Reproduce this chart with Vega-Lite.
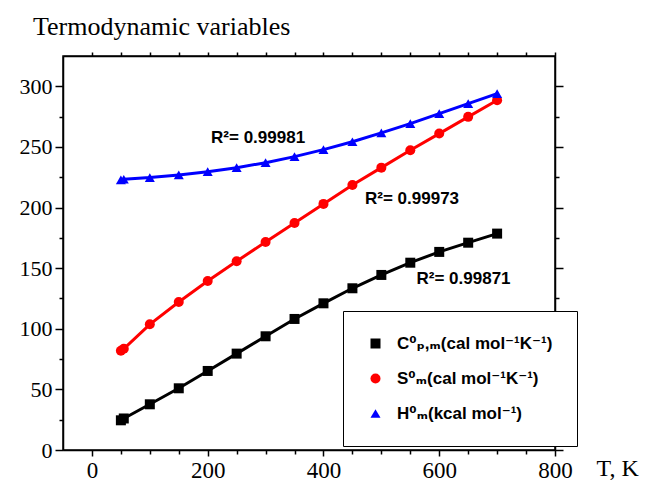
{
  "$schema": "https://vega.github.io/schema/vega-lite/v6.json",
  "width": 492,
  "height": 394,
  "autosize": "none",
  "padding": {"left": 63, "top": 56, "right": 90, "bottom": 30},
  "title": {
    "text": "Termodynamic variables",
    "anchor": "start",
    "frame": "group",
    "font": "Liberation Serif",
    "fontSize": 26,
    "fontWeight": "normal",
    "color": "black",
    "dx": -30,
    "offset": 11
  },
  "config": {
    "view": {"stroke": "black", "strokeWidth": 1.5},
    "axis": {
      "grid": false,
      "domainColor": "black",
      "domainWidth": 1.5,
      "tickColor": "black",
      "tickWidth": 1.5,
      "labelColor": "black",
      "labelFont": "Liberation Serif",
      "labelFontSize": 21,
      "labelOverlap": false,
      "labelFlush": false
    }
  },
  "datasets": {
    "series": [
      {"T": 50, "v": 24.5, "s": "C⁰ₚ,ₘ(cal mol⁻¹K⁻¹)"},
      {"T": 55, "v": 26.0, "s": "C⁰ₚ,ₘ(cal mol⁻¹K⁻¹)"},
      {"T": 100, "v": 37.7, "s": "C⁰ₚ,ₘ(cal mol⁻¹K⁻¹)"},
      {"T": 150, "v": 50.9, "s": "C⁰ₚ,ₘ(cal mol⁻¹K⁻¹)"},
      {"T": 200, "v": 65.2, "s": "C⁰ₚ,ₘ(cal mol⁻¹K⁻¹)"},
      {"T": 250, "v": 79.5, "s": "C⁰ₚ,ₘ(cal mol⁻¹K⁻¹)"},
      {"T": 300, "v": 93.8, "s": "C⁰ₚ,ₘ(cal mol⁻¹K⁻¹)"},
      {"T": 350, "v": 108.1, "s": "C⁰ₚ,ₘ(cal mol⁻¹K⁻¹)"},
      {"T": 400, "v": 121.0, "s": "C⁰ₚ,ₘ(cal mol⁻¹K⁻¹)"},
      {"T": 450, "v": 133.4, "s": "C⁰ₚ,ₘ(cal mol⁻¹K⁻¹)"},
      {"T": 500, "v": 144.4, "s": "C⁰ₚ,ₘ(cal mol⁻¹K⁻¹)"},
      {"T": 550, "v": 154.5, "s": "C⁰ₚ,ₘ(cal mol⁻¹K⁻¹)"},
      {"T": 600, "v": 163.4, "s": "C⁰ₚ,ₘ(cal mol⁻¹K⁻¹)"},
      {"T": 650, "v": 171.0, "s": "C⁰ₚ,ₘ(cal mol⁻¹K⁻¹)"},
      {"T": 700, "v": 178.5, "s": "C⁰ₚ,ₘ(cal mol⁻¹K⁻¹)"},
      {"T": 50, "v": 81.8, "s": "S⁰ₘ(cal mol⁻¹K⁻¹)"},
      {"T": 55, "v": 83.5, "s": "S⁰ₘ(cal mol⁻¹K⁻¹)"},
      {"T": 100, "v": 103.7, "s": "S⁰ₘ(cal mol⁻¹K⁻¹)"},
      {"T": 150, "v": 122.1, "s": "S⁰ₘ(cal mol⁻¹K⁻¹)"},
      {"T": 200, "v": 139.4, "s": "S⁰ₘ(cal mol⁻¹K⁻¹)"},
      {"T": 250, "v": 155.7, "s": "S⁰ₘ(cal mol⁻¹K⁻¹)"},
      {"T": 300, "v": 171.6, "s": "S⁰ₘ(cal mol⁻¹K⁻¹)"},
      {"T": 350, "v": 187.3, "s": "S⁰ₘ(cal mol⁻¹K⁻¹)"},
      {"T": 400, "v": 203.0, "s": "S⁰ₘ(cal mol⁻¹K⁻¹)"},
      {"T": 450, "v": 218.6, "s": "S⁰ₘ(cal mol⁻¹K⁻¹)"},
      {"T": 500, "v": 232.9, "s": "S⁰ₘ(cal mol⁻¹K⁻¹)"},
      {"T": 550, "v": 247.3, "s": "S⁰ₘ(cal mol⁻¹K⁻¹)"},
      {"T": 600, "v": 261.0, "s": "S⁰ₘ(cal mol⁻¹K⁻¹)"},
      {"T": 650, "v": 274.8, "s": "S⁰ₘ(cal mol⁻¹K⁻¹)"},
      {"T": 700, "v": 288.5, "s": "S⁰ₘ(cal mol⁻¹K⁻¹)"},
      {"T": 50, "v": 222.8, "s": "H⁰ₘ(kcal mol⁻¹)"},
      {"T": 55, "v": 223.3, "s": "H⁰ₘ(kcal mol⁻¹)"},
      {"T": 100, "v": 224.7, "s": "H⁰ₘ(kcal mol⁻¹)"},
      {"T": 150, "v": 226.9, "s": "H⁰ₘ(kcal mol⁻¹)"},
      {"T": 200, "v": 229.6, "s": "H⁰ₘ(kcal mol⁻¹)"},
      {"T": 250, "v": 232.9, "s": "H⁰ₘ(kcal mol⁻¹)"},
      {"T": 300, "v": 237.0, "s": "H⁰ₘ(kcal mol⁻¹)"},
      {"T": 350, "v": 242.0, "s": "H⁰ₘ(kcal mol⁻¹)"},
      {"T": 400, "v": 247.8, "s": "H⁰ₘ(kcal mol⁻¹)"},
      {"T": 450, "v": 254.3, "s": "H⁰ₘ(kcal mol⁻¹)"},
      {"T": 500, "v": 261.6, "s": "H⁰ₘ(kcal mol⁻¹)"},
      {"T": 550, "v": 269.2, "s": "H⁰ₘ(kcal mol⁻¹)"},
      {"T": 600, "v": 277.5, "s": "H⁰ₘ(kcal mol⁻¹)"},
      {"T": 650, "v": 285.7, "s": "H⁰ₘ(kcal mol⁻¹)"},
      {"T": 700, "v": 294.0, "s": "H⁰ₘ(kcal mol⁻¹)"}
    ],
    "labels": [
      {"T": 287, "v": 257, "label": "R²= 0.99981"},
      {"T": 553, "v": 207, "label": "R²= 0.99973"},
      {"T": 642, "v": 141, "label": "R²= 0.99871"}
    ]
  },
  "layer": [
    {
      "data": {"name": "series"},
      "mark": {"type": "line", "strokeWidth": 3},
      "encoding": {
        "x": {
          "field": "T", "type": "quantitative",
          "scale": {"domain": [-50, 800], "nice": false, "zero": false},
          "axis": {
            "values": [0, 50, 100, 150, 200, 250, 300, 350, 400, 450, 500, 550, 600, 650, 700, 750, 800],
            "labelExpr": "datum.value % 200 === 0 ? datum.label : ''",
            "tickSize": {"condition": {"test": "datum.value % 200 === 0", "value": 6}, "value": 4},
            "labelFont": "Liberation Serif",
            "labelFontSize": 23,
            "labelPadding": 3,
            "title": "T, K",
            "titleFont": "Liberation Serif",
            "titleFontSize": 24,
            "titleFontWeight": "normal",
            "titleColor": "black",
            "titleAlign": "left",
            "titleAnchor": "start",
            "titleX": 533,
            "titleY": 25,
            "titleBaseline": "alphabetic"
          }
        },
        "y": {
          "field": "v", "type": "quantitative",
          "scale": {"domain": [0, 325], "nice": false},
          "axis": {
            "values": [0, 25, 50, 75, 100, 125, 150, 175, 200, 225, 250, 275, 300],
            "labelExpr": "datum.value % 50 === 0 ? datum.label : ''",
            "tickSize": {"condition": {"test": "datum.value % 50 === 0", "value": 8}, "value": 4},
            "labelFont": "Liberation Serif",
            "labelFontSize": 22,
            "labelPadding": 3,
            "title": null
          }
        },
        "color": {
          "field": "s", "type": "nominal",
          "scale": {"domain": ["C⁰ₚ,ₘ(cal mol⁻¹K⁻¹)", "S⁰ₘ(cal mol⁻¹K⁻¹)", "H⁰ₘ(kcal mol⁻¹)"], "range": ["#000000", "#ff0000", "#0000ff"]}
        }
      }
    },
    {
      "data": {"name": "series"},
      "mark": {"type": "point", "filled": true, "opacity": 1, "size": 100},
      "encoding": {
        "x": {"field": "T", "type": "quantitative", "axis": null},
        "y": {"field": "v", "type": "quantitative", "axis": null},
        "color": {
          "field": "s", "type": "nominal",
          "legend": {
            "title": null,
            "orient": "none",
            "legendX": 280,
            "legendY": 255,
            "strokeColor": "black",
            "fillColor": "white",
            "padding": 24,
            "rowPadding": 17,
            "labelOffset": 13,
            "labelFont": "Liberation Sans, DejaVu Sans",
            "labelFontSize": 17,
            "labelFontWeight": "bold",
            "labelColor": "black",
            "labelLimit": 400,
            "symbolSize": 100,
            "symbolStrokeWidth": 0
          }
        },
        "shape": {
          "field": "s", "type": "nominal",
          "scale": {"domain": ["C⁰ₚ,ₘ(cal mol⁻¹K⁻¹)", "S⁰ₘ(cal mol⁻¹K⁻¹)", "H⁰ₘ(kcal mol⁻¹)"], "range": ["square", "circle", "triangle-up"]},
          "legend": {
            "title": null,
            "orient": "none",
            "legendX": 280,
            "legendY": 255,
            "strokeColor": "black",
            "fillColor": "white",
            "padding": 24,
            "rowPadding": 17,
            "labelOffset": 13,
            "labelFont": "Liberation Sans, DejaVu Sans",
            "labelFontSize": 17,
            "labelFontWeight": "bold",
            "labelColor": "black",
            "labelLimit": 400,
            "symbolSize": 100,
            "symbolStrokeWidth": 0
          }
        }
      }
    },
    {
      "data": {"name": "labels"},
      "mark": {"type": "text", "font": "Liberation Sans, DejaVu Sans", "fontSize": 17, "fontWeight": "bold", "color": "black", "align": "center", "baseline": "middle"},
      "encoding": {
        "x": {"field": "T", "type": "quantitative", "axis": null},
        "y": {"field": "v", "type": "quantitative", "axis": null},
        "text": {"field": "label"}
      }
    },
    {
      "data": {"name": "series"},
      "mark": {"type": "point", "opacity": 0},
      "encoding": {
        "x": {
          "field": "T", "type": "quantitative",
          "axis": {
            "orient": "top",
            "values": [0, 50, 100, 150, 200, 250, 300, 350, 400, 450, 500, 550, 600, 650, 700, 750, 800],
            "labels": false,
            "tickSize": 4,
            "title": null
          }
        },
        "y": {
          "field": "v", "type": "quantitative",
          "axis": {
            "orient": "right",
            "values": [0, 25, 50, 75, 100, 125, 150, 175, 200, 225, 250, 275, 300],
            "labels": false,
            "tickSize": {"condition": {"test": "datum.value % 50 === 0", "value": 8}, "value": 4},
            "title": null
          }
        }
      }
    }
  ],
  "resolve": {"axis": {"x": "independent", "y": "independent"}}
}
